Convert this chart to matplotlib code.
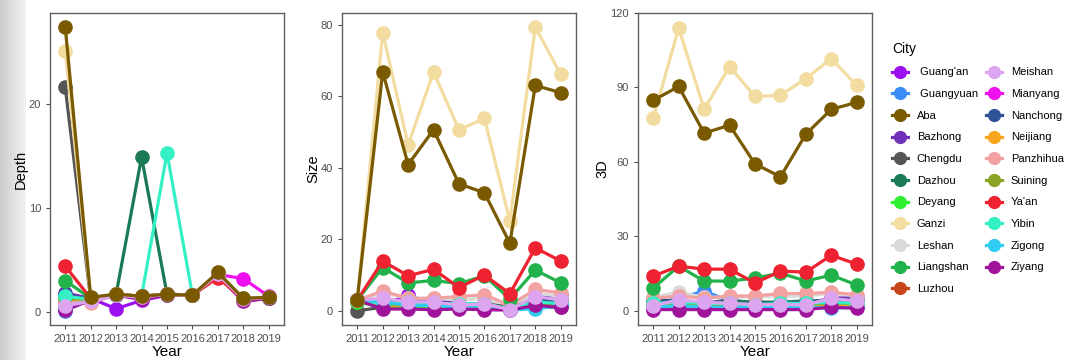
import numpy as np
import matplotlib
matplotlib.use('Agg')
import matplotlib.pyplot as plt
from matplotlib.lines import Line2D

years = [2011, 2012, 2013, 2014, 2015, 2016, 2017, 2018, 2019]

cities = [" Guang'an", " Guangyuan", "Aba", "Bazhong", "Chengdu", "Dazhou", "Deyang",
          "Ganzi", "Leshan", "Liangshan", "Luzhou", "Meishan", "Mianyang", "Nanchong",
          "Neijiang", "Panzhihua", "Suining", "Ya'an", "Yibin", "Zigong", "Ziyang"]

city_colors = ['#9B10F0', '#3C8CF5', '#7A5A00', '#7030B8', '#555555', '#1B7A56', '#2EF02E',
               '#F2DCA0', '#DADADA', '#22B24C', '#C8461A', '#DDA5F0', '#EE10EE', '#2E5296',
               '#F8A520', '#F2A2A0', '#8AA424', '#EE2230', '#34F0C4', '#30CCF2', '#A0149C']

depth = {
    " Guang'an":  [0.3, 1.3, 0.3, 1.1, 1.6, 1.6, 3.5, 1.1, 1.3],
    " Guangyuan": [0.1, 1.2, 1.6, 1.5, 1.6, 1.6, 3.6, 1.2, 1.4],
    "Aba":        [27.4, 1.4, 1.7, 1.5, 1.7, 1.6, 3.8, 1.3, 1.4],
    "Bazhong":    [1.8, 1.3, 1.6, 1.4, 1.7, 1.6, 3.6, 1.1, 1.3],
    "Chengdu":    [21.6, 1.2, 1.7, 1.5, 1.7, 1.6, 3.7, 1.2, 1.4],
    "Dazhou":     [1.4, 1.3, 1.7, 14.9, 1.7, 1.6, 3.7, 1.2, 1.4],
    "Deyang":     [1.0, 1.2, 1.6, 1.4, 1.6, 1.6, 3.5, 1.2, 1.3],
    "Ganzi":      [25.1, 1.3, 1.7, 1.5, 1.7, 1.6, 3.8, 1.3, 1.4],
    "Leshan":     [0.8, 1.0, 1.6, 1.4, 1.6, 1.6, 3.5, 1.2, 1.3],
    "Liangshan":  [3.0, 1.3, 1.7, 1.5, 1.7, 1.6, 3.6, 1.3, 1.4],
    "Luzhou":     [1.2, 1.1, 1.6, 1.4, 1.7, 1.6, 3.5, 1.2, 1.3],
    "Meishan":    [0.6, 1.0, 1.6, 1.4, 1.7, 1.6, 3.6, 1.2, 1.4],
    "Mianyang":   [1.0, 1.2, 1.6, 1.3, 1.7, 1.6, 3.6, 3.2, 1.5],
    "Nanchong":   [1.6, 1.2, 1.6, 1.4, 1.7, 1.6, 3.6, 1.2, 1.3],
    "Neijiang":   [1.1, 1.2, 1.6, 1.4, 1.7, 1.6, 3.6, 1.2, 1.3],
    "Panzhihua":  [0.9, 0.9, 1.6, 1.4, 1.7, 1.6, 3.5, 1.2, 1.3],
    "Suining":    [1.3, 1.2, 1.6, 1.4, 1.7, 1.6, 3.6, 1.2, 1.3],
    "Ya'an":      [4.4, 1.3, 1.7, 1.5, 1.7, 1.6, 3.3, 1.2, 1.4],
    "Yibin":      [1.5, 1.2, 1.6, 1.5, 15.3, 1.6, 3.6, 1.2, 1.4],
    "Zigong":     [0.5, 1.1, 1.6, 1.4, 1.7, 1.6, 3.6, 1.2, 1.3],
    "Ziyang":     [0.2, 1.1, 1.6, 1.2, 1.6, 1.6, 3.5, 1.0, 1.3],
}

size = {
    " Guang'an":  [3.0, 1.5, 4.5, 1.5, 1.5, 1.0, 0.5, 2.0, 3.0],
    " Guangyuan": [2.5, 1.5, 1.5, 1.5, 1.0, 1.0, 0.3, 1.0, 1.5],
    "Aba":        [3.1, 66.8, 40.9, 50.6, 35.5, 33.0, 18.9, 63.0, 61.0],
    "Bazhong":    [3.0, 2.0, 2.5, 3.0, 2.0, 2.0, 0.5, 3.5, 4.5],
    "Chengdu":    [0.0, 1.0, 1.0, 1.0, 1.0, 1.0, 0.5, 1.0, 1.0],
    "Dazhou":     [3.0, 2.0, 2.0, 2.0, 1.5, 2.0, 0.8, 3.0, 3.0],
    "Deyang":     [2.5, 1.0, 1.0, 1.0, 1.0, 1.0, 0.5, 1.5, 1.5],
    "Ganzi":      [3.0, 77.8, 46.4, 66.8, 50.6, 53.8, 25.1, 79.3, 66.1],
    "Leshan":     [3.0, 5.0, 3.5, 3.5, 3.0, 3.5, 1.0, 5.0, 4.0],
    "Liangshan":  [3.0, 12.1, 7.8, 8.5, 7.6, 9.8, 3.3, 11.4, 7.8],
    "Luzhou":     [3.0, 2.5, 2.0, 2.0, 2.0, 2.0, 1.0, 3.0, 3.0],
    "Meishan":    [3.0, 3.5, 2.5, 2.5, 1.5, 2.0, 0.3, 4.0, 3.0],
    "Mianyang":   [3.0, 1.5, 1.5, 1.5, 1.5, 1.5, 0.5, 2.5, 2.0],
    "Nanchong":   [3.0, 2.5, 2.0, 2.0, 2.0, 2.0, 0.8, 3.0, 2.5],
    "Neijiang":   [3.0, 1.5, 1.5, 1.5, 1.5, 1.5, 0.5, 2.0, 2.0],
    "Panzhihua":  [3.0, 5.5, 3.5, 3.5, 4.0, 4.5, 1.5, 6.0, 5.0],
    "Suining":    [3.0, 2.0, 1.5, 1.5, 1.5, 1.5, 0.5, 2.0, 2.0],
    "Ya'an":      [3.0, 13.9, 9.8, 11.6, 6.5, 10.0, 4.8, 17.6, 13.9],
    "Yibin":      [3.0, 2.0, 2.5, 2.0, 2.0, 2.0, 0.5, 2.5, 2.0],
    "Zigong":     [3.0, 2.5, 1.5, 1.5, 1.0, 1.5, 0.3, 0.5, 1.5],
    "Ziyang":     [3.0, 0.5, 0.5, 0.3, 0.5, 0.3, 0.2, 1.5, 1.0],
}

three_d = {
    " Guang'an":  [1.0, 1.5, 1.5, 1.5, 1.0, 1.0, 1.0, 2.5, 3.0],
    " Guangyuan": [3.0, 5.0, 8.0, 4.0, 3.0, 3.0, 3.0, 2.0, 3.0],
    "Aba":        [84.8, 90.4, 71.6, 74.8, 59.2, 54.0, 71.2, 81.2, 84.0],
    "Bazhong":    [3.0, 3.0, 3.0, 4.5, 3.0, 3.0, 3.0, 5.0, 5.5],
    "Chengdu":    [4.5, 3.0, 3.0, 3.5, 3.0, 3.0, 3.0, 3.5, 3.5],
    "Dazhou":     [5.0, 3.5, 3.0, 4.0, 3.5, 3.5, 4.0, 4.0, 4.0],
    "Deyang":     [2.0, 2.0, 2.0, 2.0, 2.0, 2.0, 2.0, 2.5, 2.5],
    "Ganzi":      [77.6, 114.0, 81.2, 98.4, 86.4, 86.8, 93.6, 101.6, 90.8],
    "Leshan":     [5.5, 7.5, 5.5, 5.5, 5.5, 6.0, 6.0, 7.0, 6.0],
    "Liangshan":  [9.2, 18.0, 12.0, 12.0, 13.2, 15.2, 12.0, 14.4, 10.4],
    "Luzhou":     [3.0, 2.5, 2.5, 2.5, 2.5, 2.5, 2.5, 3.0, 3.0],
    "Meishan":    [2.0, 4.5, 3.5, 3.0, 2.5, 2.5, 2.5, 5.0, 4.0],
    "Mianyang":   [1.5, 2.5, 2.0, 2.0, 2.0, 2.0, 2.0, 4.0, 3.0],
    "Nanchong":   [4.0, 4.0, 3.0, 3.0, 3.0, 3.0, 3.5, 4.5, 4.0],
    "Neijiang":   [2.5, 2.0, 2.0, 2.0, 2.0, 2.0, 2.0, 2.5, 2.5],
    "Panzhihua":  [5.0, 6.0, 5.0, 6.0, 6.0, 7.0, 7.0, 7.5, 6.5],
    "Suining":    [2.5, 2.5, 2.5, 2.5, 2.5, 2.5, 2.5, 3.0, 3.0],
    "Ya'an":      [14.0, 18.0, 16.8, 16.8, 11.2, 16.0, 15.6, 22.4, 18.8],
    "Yibin":      [3.0, 3.5, 3.0, 3.0, 2.5, 3.0, 3.0, 3.5, 3.0],
    "Zigong":     [1.5, 2.0, 1.5, 1.5, 1.5, 1.5, 1.5, 1.0, 1.5],
    "Ziyang":     [0.5, 0.5, 0.5, 0.5, 0.5, 0.5, 0.5, 1.5, 1.0],
}

panels = [('Depth', depth, [0, 10, 20], None),
          ('Size', size, [0, 20, 40, 60, 80], None),
          ('3D', three_d, [0, 30, 60, 90, 120], (-5.7, 120))]

# cities drawn on top of the crowd
on_top = {"Aba": 5, "Meishan": 4, "Ganzi": 3.5, "Ya'an": 3.2, "Liangshan": 3.1}


def main():
    plt.rcParams['font.family'] = ['Liberation Sans', 'DejaVu Sans']

    fig = plt.figure(figsize=(10.67, 3.6), dpi=100)

    # faint grey shading at the left edge of the scan
    strip = fig.add_axes([0, 0, 26 / 1067, 1], zorder=-5)
    grad = np.linspace(0.80, 0.95, 50).reshape(1, -1)
    strip.imshow(grad, aspect='auto', cmap='gray', vmin=0, vmax=1, extent=[0, 1, 0, 1])
    strip.axis('off')

    lefts = [50 / 1067, 342 / 1067, 638 / 1067]
    width = 234 / 1067
    bottom = 1 - 325 / 360
    height = (325 - 13) / 360

    for (label, data, yticks, ylim), left in zip(panels, lefts):
        ax = fig.add_axes([left, bottom, width, height])
        for i, city in enumerate(cities):
            z = on_top.get(city, 2 + i * 0.01)
            ax.plot(years, data[city], color=city_colors[i], linewidth=2.3,
                    marker='o', markersize=9.5, zorder=z)
        ax.margins(x=0.075, y=0.05)
        if ylim is not None:
            ax.set_ylim(*ylim)
        ax.set_yticks(yticks)
        ax.set_xticks(years)
        ax.tick_params(axis='both', labelsize=8, colors='#4D4D4D', length=3, width=0.8)
        for sp in ax.spines.values():
            sp.set_color('#606060')
            sp.set_linewidth(1.0)
        ax.set_xlabel('Year', fontsize=11, labelpad=1)
        ax.set_ylabel(label, fontsize=10.5, labelpad=0.5)

    handles = [Line2D([], [], color=c, linewidth=2.3, marker='o', markersize=8.5)
               for c in city_colors]
    fig.legend(handles, cities, loc='upper left', bbox_to_anchor=(884 / 1067, 1 - 34 / 360),
               ncol=2, frameon=False, fontsize=8, title='City', title_fontsize=10,
               alignment='left', labelspacing=1.05, handlelength=1.45, handletextpad=0.8,
               columnspacing=0.7, borderpad=0.2)

    fig.savefig('out.png', dpi=100)


if __name__ == '__main__':
    main()
